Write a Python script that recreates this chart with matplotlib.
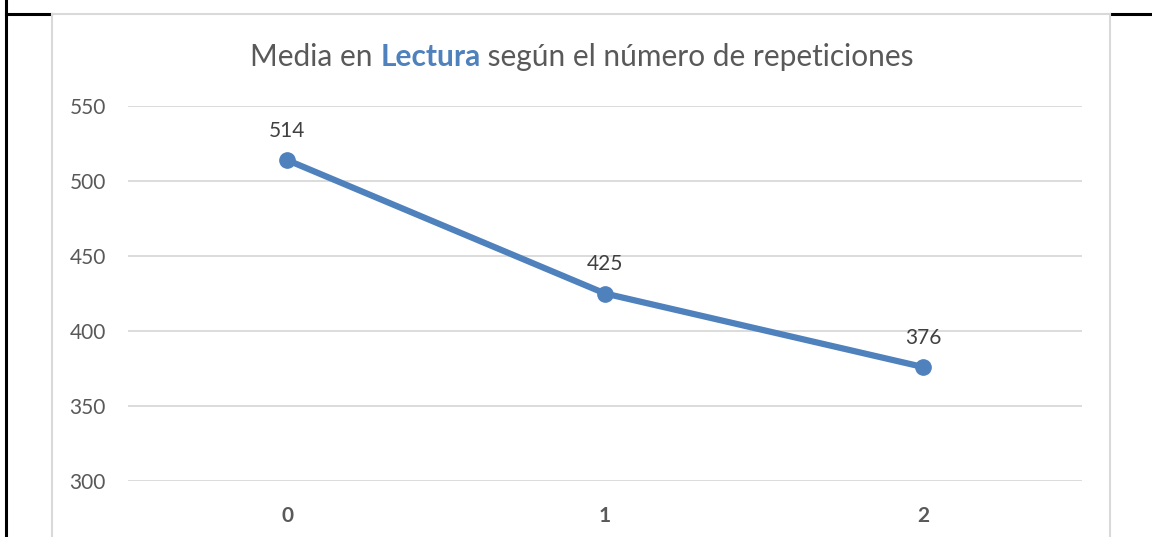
import matplotlib
matplotlib.use("Agg")
import matplotlib.pyplot as plt
from matplotlib.lines import Line2D

# data
categories = ["0", "1", "2"]
values = [514, 425, 376]
y_ticks = [300, 350, 400, 450, 500, 550]

title_parts = [("Media en ", "normal", "#595959"),
               ("Lectura", "bold", "#4f81bd"),
               (" según el número de repeticiones", "normal", "#595959")]

plt.rcParams['font.family'] = ['Lato', 'DejaVu Sans']
text_col = "#595959"
line_col = "#4f81bd"

fig = plt.figure(figsize=(11.52, 5.37), dpi=100)
W, H = 1152, 537

def fx(px):
    return px / W

def fy(py):
    return 1 - py / H

# page borders (black) and chart frame (grey)
fig.add_artist(Line2D([fx(6), fx(6)], [fy(0), fy(537)], color="black", lw=2.2))
fig.add_artist(Line2D([fx(6), fx(51)], [fy(14), fy(14)], color="black", lw=2.2))
fig.add_artist(Line2D([fx(1111), fx(1152)], [fy(14), fy(14)], color="black", lw=2.2))
fig.add_artist(Line2D([fx(52), fx(1110)], [fy(14), fy(14)], color="#d9d9d9", lw=1.5))
fig.add_artist(Line2D([fx(52), fx(52)], [fy(14), fy(537)], color="#d9d9d9", lw=1.5))
fig.add_artist(Line2D([fx(1110), fx(1110)], [fy(14), fy(537)], color="#d9d9d9", lw=1.5))

ax = fig.add_axes([fx(128), fy(481), fx(1082) - fx(128), fy(106) - fy(481)])
x = list(range(len(categories)))
ax.plot(x, values, color=line_col, lw=4.5, marker="o", ms=11, solid_capstyle="round", zorder=3)
for xi, v in zip(x, values):
    ax.annotate(str(v), (xi, v), xytext=(0, 14), textcoords="offset points",
                ha="center", va="bottom", fontsize=15, color="#404040")

ax.set_xlim(-0.5, len(categories) - 0.5)
ax.set_ylim(y_ticks[0], y_ticks[-1])
ax.set_yticks(y_ticks)
ax.set_xticks(x)
ax.set_xticklabels(categories, fontweight="bold")
ax.tick_params(axis="both", length=0, colors=text_col, labelsize=15)
ax.tick_params(axis="y", pad=16)
ax.tick_params(axis="x", pad=18)
ax.grid(axis="y", color="#d9d9d9", lw=1.3)
ax.set_axisbelow(True)
for s in ax.spines.values():
    s.set_visible(False)

# title with a coloured bold word, centred
fig.canvas.draw()
renderer = fig.canvas.get_renderer()
pieces = []
for txt, weight, col in title_parts:
    t = fig.text(0, fy(57), txt, fontsize=21.5, fontweight=weight, color=col,
                 ha="left", va="center")
    pieces.append(t)
widths = [p.get_window_extent(renderer).width for p in pieces]
start = 582 - sum(widths) / 2
for p, w in zip(pieces, widths):
    p.set_x(fx(start))
    start += w

fig.savefig("out.png", dpi=100)
